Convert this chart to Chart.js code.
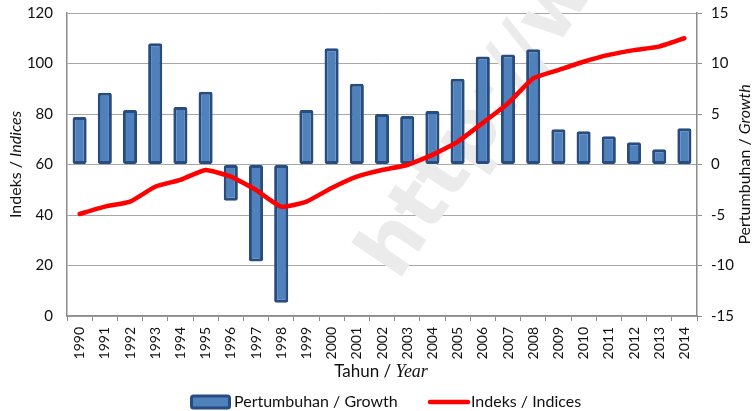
<!DOCTYPE html>
<html>
<head>
<meta charset="utf-8">
<script src="https://cdn.jsdelivr.net/npm/chart.js@4"></script>
<style>
  html, body { margin: 0; padding: 0; background: #fff; }
  #wrap { width: 755px; height: 411px; position: relative; }
</style>
</head>
<body>
<div id="wrap"><canvas id="c"></canvas></div>
<script>
// chart data
const years = ['1990','1991','1992','1993','1994','1995','1996','1997','1998','1999','2000','2001','2002',
               '2003','2004','2005','2006','2007','2008','2009','2010','2011','2012','2013','2014'];
const growth = [4.7, 7.1, 5.4, 12.0, 5.7, 7.2, -3.6, -9.6, -13.7, 5.4, 11.5, 8.0, 5.0,
                4.8, 5.3, 8.5, 10.7, 10.9, 11.4, 3.5, 3.3, 2.8, 2.2, 1.5, 3.6];
const indices = [40.4, 43.3, 45.3, 51.2, 53.9, 57.8, 55.2, 49.9, 43.3, 45.3, 50.7, 55.2, 57.8,
                 59.8, 63.8, 69.0, 76.5, 84.2, 94.1, 97.4, 100.7, 103.4, 105.3, 106.7, 110.0];
const leftTicks = [0, 20, 40, 60, 80, 100, 120];
const rightTicks = [-15, -10, -5, 0, 5, 10, 15];

const FONT = 'Lato, "Open Sans", sans-serif';
const INK = '#111';

// axis titles, legend and faint watermark
const decor = {
  id: 'decor',
  beforeDatasetsDraw(chart) {
    const ctx = chart.ctx;
    ctx.save();
    ctx.translate(398, 282);
    ctx.rotate(-56 * Math.PI / 180);
    ctx.font = 'bold 80px "DejaVu Sans", sans-serif';
    ctx.fillStyle = '#ebebeb';
    ctx.textBaseline = 'alphabetic';
    ctx.fillText('http://www.bps.go.id', 0, 0);
    ctx.restore();
  },
  afterDraw(chart) {
    const ctx = chart.ctx, a = chart.chartArea;
    const mid = (a.top + a.bottom) / 2;
    function mixed(parts, x, y, rot) {
      ctx.save();
      ctx.translate(x, y);
      if (rot) ctx.rotate(-Math.PI / 2);
      let w = 0;
      parts.forEach(p => { ctx.font = p[1]; w += ctx.measureText(p[0]).width; });
      let cx = -w / 2;
      ctx.fillStyle = INK;
      ctx.textBaseline = 'middle';
      ctx.textAlign = 'left';
      parts.forEach(p => { ctx.font = p[1]; ctx.fillText(p[0], cx, 0); cx += ctx.measureText(p[0]).width; });
      ctx.restore();
    }
    mixed([['Indeks / ', '16px ' + FONT], ['Indices', 'italic 16px ' + FONT]], 16, mid, true);
    mixed([['Pertumbuhan / ', '16px ' + FONT], ['Growth', 'italic 16px ' + FONT]], 745, mid, true);
    mixed([['Tahun / ', '17px ' + FONT], ['Year', 'italic 18px "Liberation Serif", serif']], 381, 372, false);

    // legend
    const ly = 402;
    ctx.save();
    ctx.fillStyle = '#4f81bd';
    ctx.strokeStyle = '#284c7e';
    ctx.lineWidth = 3;
    ctx.beginPath();
    ctx.roundRect(191.5, ly - 6, 38, 12, 2);
    ctx.fill(); ctx.stroke();
    ctx.strokeStyle = '#ff0000';
    ctx.lineWidth = 4.5;
    ctx.lineCap = 'round';
    ctx.beginPath(); ctx.moveTo(430, ly); ctx.lineTo(468, ly); ctx.stroke();
    ctx.fillStyle = INK;
    ctx.font = '16px ' + FONT;
    ctx.textBaseline = 'middle';
    ctx.fillText('Pertumbuhan / Growth', 234, ly);
    ctx.fillText('Indeks / Indices', 471, ly);
    ctx.restore();
  }
};

new Chart(document.getElementById('c'), {
  data: {
    labels: years,
    datasets: [
      {
        type: 'line', label: 'Indeks / Indices', data: indices, yAxisID: 'y',
        borderColor: '#ff0000', borderWidth: 4.5, pointRadius: 0, tension: 0.15,
        borderCapStyle: 'round', order: 0
      },
      {
        type: 'bar', label: 'Pertumbuhan / Growth', data: growth, yAxisID: 'y1',
        backgroundColor: '#4f81bd', borderColor: '#284c7e', borderWidth: 3,
        borderSkipped: false, borderRadius: 2,
        categoryPercentage: 1, barPercentage: 0.56, order: 1
      }
    ]
  },
  options: {
    responsive: true, maintainAspectRatio: false, animation: false,
    layout: { padding: { top: 13, left: 0, right: 0, bottom: 0 } },
    plugins: { legend: { display: false }, tooltip: { enabled: false } },
    scales: {
      x: {
        offset: true,
        grid: { offset: true, drawOnChartArea: false, drawTicks: true, tickLength: 5, color: '#8c8c8c' },
        border: { color: '#8c8c8c', width: 1.5 },
        ticks: { color: INK, font: { family: FONT, size: 14 }, minRotation: 90, maxRotation: 90, autoSkip: false, padding: 6 },
        afterFit(s) { s.height = 95; }
      },
      y: {
        position: 'left', min: 0, max: 120,
        afterBuildTicks(s) { s.ticks = leftTicks.map(v => ({ value: v })); },
        grid: { color: '#a6a6a6', lineWidth: 1, drawTicks: false },
        border: { color: '#8c8c8c', width: 1.5 },
        ticks: { color: INK, font: { family: FONT, size: 15 }, padding: 14 },
        afterFit(s) { s.width = 67; s.paddingTop = 0; s.paddingBottom = 0; }
      },
      y1: {
        position: 'right', min: -15, max: 15,
        afterBuildTicks(s) { s.ticks = rightTicks.map(v => ({ value: v })); },
        grid: { drawOnChartArea: false, drawTicks: true, tickLength: 5, color: '#8c8c8c' },
        border: { color: '#8c8c8c', width: 1.5 },
        ticks: { color: INK, font: { family: FONT, size: 15 }, padding: 9 },
        afterFit(s) { s.width = 58; s.paddingTop = 0; s.paddingBottom = 0; }
      }
    }
  },
  plugins: [decor]
});
</script>
</body>
</html>
